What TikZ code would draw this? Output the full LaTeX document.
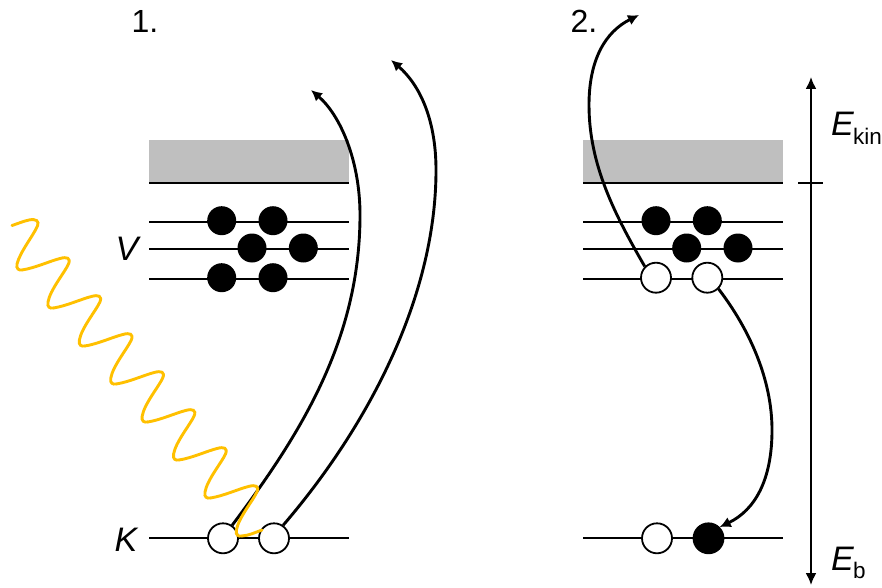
\documentclass[tikz,border=0pt]{standalone}
\usepackage{fontspec}
\setmainfont{Liberation Sans}
\usetikzlibrary{arrows.meta}
\definecolor{wave}{HTML}{FFC000}
\definecolor{band}{HTML}{BFBFBF}
\tikzset{
  level/.style={line width=1.9pt,black},
  full/.style={circle,fill=black,draw=none,minimum size=29pt,inner sep=0pt},
  hollow/.style={circle,fill=white,draw=black,line width=1.8pt,minimum size=30pt,inner sep=0pt},
  fullB/.style={circle,fill=black,draw=black,line width=1.8pt,minimum size=30pt,inner sep=0pt},
  jump/.style={line width=2.9pt,-{Latex[length=11pt,width=11pt]}},
  axis/.style={line width=1.9pt,{Latex[length=12pt,width=11pt]}-{Latex[length=12pt,width=11pt]}},
  photon/.style={wave,line width=2.9pt,line cap=round},
  lab/.style={inner sep=0pt,font=\fontsize{32}{32}\selectfont},
  sym/.style={inner sep=0pt,anchor=base west,font=\fontsize{34}{34}\selectfont\itshape},
  sub/.style={inner sep=0pt,anchor=base west,font=\fontsize{22.5}{23}\selectfont}
}
\begin{document}
\begin{tikzpicture}[x=1pt,y=-1pt]
\useasboundingbox (0,0) rectangle (882,588);
% bands
\fill[band] (149,140) rectangle (349,183);
\fill[band] (583,140) rectangle (783,183);
% levels
\foreach \y in {183,222,249,279,538}{
  \draw[level] (149,\y) -- (349,\y);
  \draw[level] (583,\y) -- (783,\y);
}
% labels
\node[lab] (n1) at (145,21) {1.};
\node[lab] (n2) at (584,21) {2.};
\node[sym,anchor=center] (V) at (127,249) {V};
\node[sym,anchor=center] (K) at (126,540) {K};
\node[sym] (Ek) at (831,136) {E};
\node[sub] (Ekin) at (853,145) {kin};
\node[sym] (Eb) at (831,570) {E};
\node[sub] (Ebs) at (853,578) {b};
% left electrons
\node[full] (a1) at (221.7,220.7) {};
\node[full] (a2) at (273,220.7) {};
\node[full] (a3) at (252,248) {};
\node[full] (a4) at (303.3,248) {};
\node[full] (a5) at (221.7,277.7) {};
\node[full] (a6) at (273,277.7) {};
\node[hollow] (k1) at (223,538.3) {};
\node[hollow] (k2) at (274,538.3) {};
% right electrons
\node[full] (b1) at (656,220.7) {};
\node[full] (b2) at (707.3,220.7) {};
\node[full] (b3) at (686.7,248) {};
\node[full] (b4) at (738,248) {};
\node[hollow] (b5) at (656,277.7) {};
\node[hollow] (b6) at (707.3,277.7) {};
\node[hollow] (r1) at (657,538.3) {};
\node[fullB] (r2) at (708.5,538.3) {};
% free ends
\coordinate (e1) at (311,90);
\coordinate (e2) at (391,60);
\coordinate (e3) at (639,15);
\coordinate (top) at (811,77);
\coordinate (bot) at (811,585);
\coordinate (tl) at (798,183);
\coordinate (tr) at (823,183);
% jumps
\draw[jump] (k1.55) .. controls (300,435) and (360,340) .. (360,215) .. controls (360,160) and (340,115) .. (e1);
\draw[jump] (k2.55) .. controls (365,430) and (436,300) .. (436,170) .. controls (436,120) and (420,85) .. (e2);
\draw[jump] (b5.north west) .. controls (615,215) and (589,165) .. (589,105) .. controls (589,60) and (605,32) .. (e3);
\draw[jump] (b6.south east) .. controls (750,330) and (772,380) .. (772,430) .. controls (772,480) and (755,510) .. (r2.north east);
% energy axis
\draw[axis] (top) -- (bot);
\draw[line width=1.4pt] (tl) -- (tr);
% photon
\draw[photon] (12,225.5) .. controls (18,223.5) and (24,221) .. (29,220) .. controls (36,218.5) and (39.5,221) .. (37.5,226) .. controls (33,236) and (20,252) .. (17,264) .. controls (16,269) and (19,270.5) .. (22,270);
\foreach \k in {0,...,6}{
  \draw[photon,shift={({31.4*\k},{38*\k})}] (22,270) .. controls (35,268) and (50,261) .. (60,258.5) .. controls (67,256.5) and (71,258) .. (68.5,264) .. controls (65,272) and (50,290) .. (48,302) .. controls (47,307.5) and (50,308.5) .. (53.4,308);
}
\draw[photon] (241.8,536) .. controls (249,535.5) and (255,532.5) .. (262,530);
\end{tikzpicture}
\end{document}
